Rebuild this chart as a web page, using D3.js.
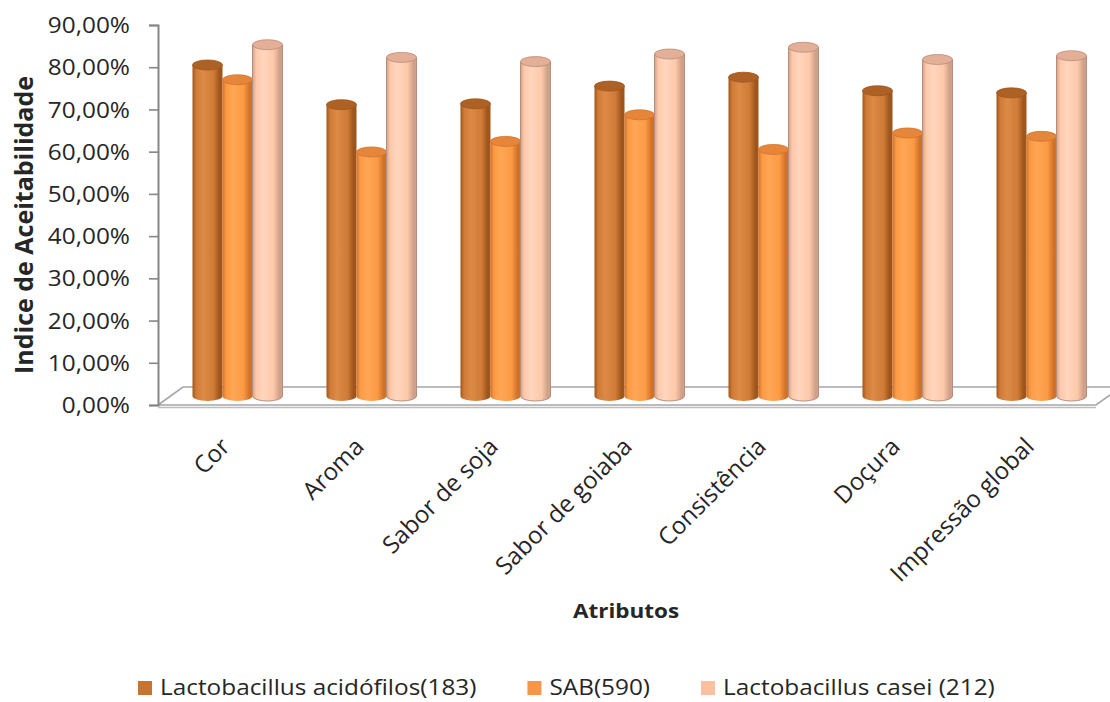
<!DOCTYPE html>
<html>
<head>
<meta charset="utf-8">
<script src="https://cdn.jsdelivr.net/npm/d3@7"></script>
<style>
  html, body { margin: 0; padding: 0; background: #fff; }
  svg { display: block; font-family: "Open Sans", "Noto Sans", sans-serif; }
</style>
</head>
<body>
<svg id="chart" width="1110" height="702"></svg>
<script>
// Attributes rated and acceptability index per formulation
const categories = ["Cor", "Aroma", "Sabor de soja", "Sabor de goiaba", "Consistência", "Doçura", "Impressão global"];
const seriesNames = ["Lactobacillus acidófilos(183)", "SAB(590)", "Lactobacillus casei (212)"];
const acidofilos = [0.784, 0.690, 0.692, 0.734, 0.755, 0.723, 0.718];
const sab        = [0.749, 0.578, 0.603, 0.666, 0.584, 0.623, 0.615];
const casei      = [0.832, 0.802, 0.792, 0.810, 0.826, 0.797, 0.806];
const yTicks = [0, 0.1, 0.2, 0.3, 0.4, 0.5, 0.6, 0.7, 0.8, 0.9];
const yTitle = "Indice de Aceitabilidade";
const xTitle = "Atributos";

const seriesValues = [acidofilos, sab, casei];

// cylinder shading per series: edge, highlight, body, top cap, outline
const palettes = [
  { edge: "#9E561C", light: "#DC8A47", body: "#D07B37", cap: "#AE6124", line: "none", key: "#C8732F" },
  { edge: "#D0722A", light: "#FFA655", body: "#FB9A44", cap: "#E5863A", line: "none", key: "#F79646" },
  { edge: "#CFA08A", light: "#FFD6BE", body: "#FDC8A9", cap: "#E3AF97", line: "#B98D7B", key: "#FAC09F" }
];

const svg = d3.select("#chart");
const SX = 1.16;           // horizontal glyph stretch used for flat text
const textColor = "#262626";

// front plane of the plot
const plotLeft = 158, plotRight = 1096, plotTop = 25, plotBottom = 405;
// 3D depth shift of the floor's back edge, bars stand at mid depth
const depthX = 25, depthY = -18;
const midX = depthX / 2, midY = depthY / 2;

const y = d3.scaleLinear().domain([0, 0.9]).range([plotBottom, plotTop]);
const x0 = d3.scaleBand().domain(categories).range([plotLeft, plotRight]).paddingInner(0).paddingOuter(0);
const x1 = d3.scaleBand().domain(d3.range(seriesNames.length)).range([-45, 45]).padding(0);

const ptBR = d3.formatLocale({ decimal: ",", thousands: ".", grouping: [3], currency: ["R$", ""] });
const fmt = ptBR.format(".2%");

// gradients for the cylinder bodies
const defs = svg.append("defs");
palettes.forEach((p, i) => {
  const g = defs.append("linearGradient").attr("id", "cyl" + i)
    .attr("x1", "0%").attr("x2", "100%").attr("y1", "0%").attr("y2", "0%");
  [[0, p.edge], [0.12, p.body], [0.35, p.light], [0.7, p.body], [0.9, p.edge], [1, p.edge]]
    .forEach(([o, c]) => g.append("stop").attr("offset", o).attr("stop-color", c));
});

// floor
const floor = svg.append("g");
floor.append("path")
  .attr("d", `M${plotLeft},${plotBottom} L${plotLeft + depthX},${plotBottom + depthY} L${plotRight + depthX},${plotBottom + depthY} L${plotRight},${plotBottom} Z`)
  .attr("fill", "#fff").attr("stroke", "#A6A6A6").attr("stroke-width", 1.6);
floor.append("line")
  .attr("x1", plotLeft).attr("x2", plotRight).attr("y1", plotBottom + 2.5).attr("y2", plotBottom + 2.5)
  .attr("stroke", "#BDBDBD").attr("stroke-width", 1.4);

// value axis
const axis = d3.axisLeft(y).tickValues(yTicks).tickFormat(fmt).tickSize(9).tickPadding(0);
const ax = svg.append("g").attr("transform", `translate(${plotLeft},0)`).call(axis);
ax.select(".domain").attr("stroke", "#868686").attr("stroke-width", 2);
ax.selectAll(".tick line").attr("stroke", "#868686").attr("stroke-width", 1.6);
ax.selectAll(".tick text")
  .attr("x", 0).attr("dy", "0.36em")
  .attr("transform", `translate(-28,0) scale(${SX},1)`)
  .attr("text-anchor", "end")
  .attr("fill", textColor)
  .style("font-size", "21px")
  .style("font-family", "'Open Sans', sans-serif");

// cylinders
const rx = x1.bandwidth() / 2, ry = 5;
const groups = svg.append("g").selectAll("g.cat")
  .data(categories)
  .join("g").attr("class", "cat")
  .attr("transform", d => `translate(${x0(d) + x0.bandwidth() / 2 + midX},${midY})`);

groups.each(function (cat, ci) {
  const g = d3.select(this);
  seriesValues.forEach((vals, si) => {
    const p = palettes[si];
    const cx = x1(si) + rx;
    const yTop = y(vals[ci]);
    const yBase = y(0);
    const c = g.append("g");
    c.append("path")
      .attr("d", `M${cx - rx},${yTop} L${cx - rx},${yBase} A${rx},${ry} 0 0 0 ${cx + rx},${yBase} L${cx + rx},${yTop} Z`)
      .attr("fill", `url(#cyl${si})`)
      .attr("stroke", p.line).attr("stroke-width", 1);
    c.append("ellipse")
      .attr("cx", cx).attr("cy", yTop).attr("rx", rx).attr("ry", ry)
      .attr("fill", p.cap)
      .attr("stroke", p.line === "none" ? p.edge : p.line).attr("stroke-width", 0.8);
  });
});

// category labels
svg.append("g").selectAll("text")
  .data(categories)
  .join("text")
  .attr("transform", d => `translate(${x0(d) + x0.bandwidth() / 2 + midX - 6},${448}) rotate(-45)`)
  .attr("text-anchor", "end")
  .attr("fill", textColor)
  .style("font-size", "24px")
  .text(d => d);

// axis titles
svg.append("text")
  .attr("transform", `translate(33,225) rotate(-90)`)
  .attr("text-anchor", "middle")
  .attr("fill", textColor)
  .style("font-size", "25px").style("font-weight", "bold")
  .text(yTitle);

svg.append("g").attr("transform", `translate(626,618) scale(${SX * 0.97},1)`)
  .append("text")
  .attr("text-anchor", "middle")
  .attr("fill", textColor)
  .style("font-size", "20px").style("font-weight", "bold")
  .text(xTitle);

// legend
const legend = svg.append("g");
let lx = 138;
seriesNames.forEach((name, i) => {
  legend.append("rect")
    .attr("x", lx).attr("y", 681).attr("width", 14).attr("height", 14)
    .attr("fill", palettes[i].key);
  const t = legend.append("g").attr("transform", `translate(${lx + 22},695) scale(${SX},1)`)
    .append("text")
    .attr("fill", textColor)
    .style("font-size", "21px")
    .text(name);
  lx = lx + 22 + t.node().getComputedTextLength() * SX + 51;
});
</script>
</body>
</html>
